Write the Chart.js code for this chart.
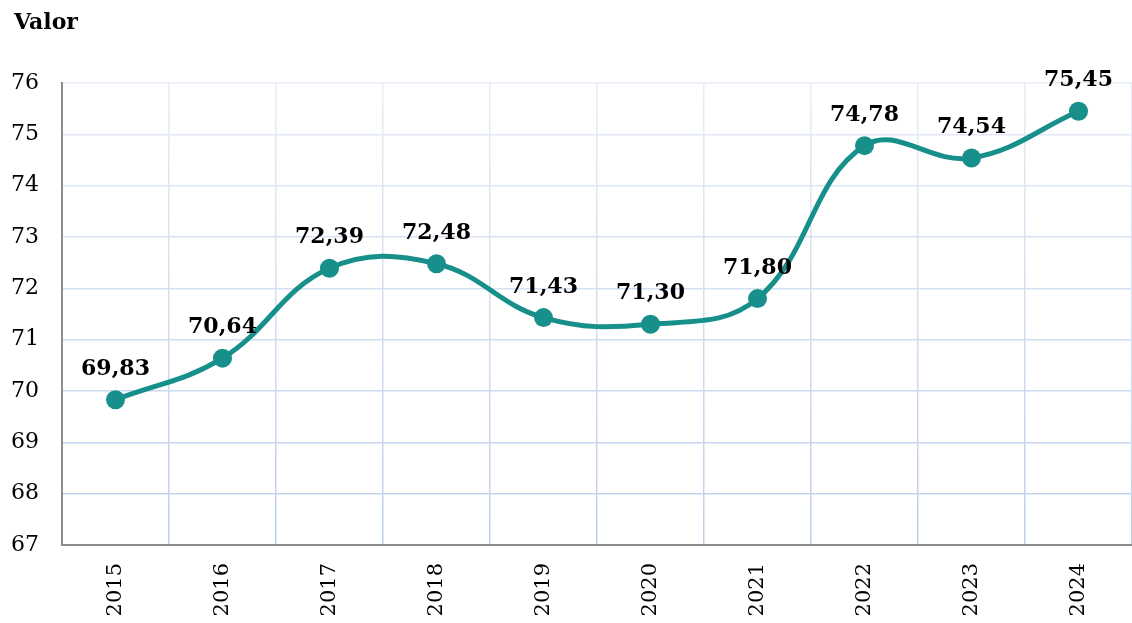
<!DOCTYPE html>
<html>
<head>
<meta charset="utf-8">
<script src="https://cdn.jsdelivr.net/npm/chart.js@4"></script>
<style>
  body { margin: 0; background: #fff; }
</style>
</head>
<body>
<canvas id="chart" width="1132" height="623"></canvas>
<script>
const years = ['2015', '2016', '2017', '2018', '2019', '2020', '2021', '2022', '2023', '2024'];
const valores = [69.83, 70.64, 72.39, 72.48, 71.43, 71.30, 71.80, 74.78, 74.54, 75.45];
const yMin = 67;
const yMax = 76;

const serif = '"DejaVu Serif", "Liberation Serif", serif';
const teal = '#178f8b';

function gridGradient(c) {
    const area = c.chart.chartArea;
    if (!area) return '#c8d7ec';
    const g = c.chart.ctx.createLinearGradient(0, area.top, 0, area.bottom);
    g.addColorStop(0, '#e6edf7');
    g.addColorStop(1, '#bcd0ea');
    return g;
}

// value labels + the "Valor" heading
const labelPlugin = {
    id: 'labels',
    afterDatasetsDraw(chart) {
        const ctx = chart.ctx;
        const meta = chart.getDatasetMeta(0);
        ctx.save();
        ctx.fillStyle = '#000';
        ctx.font = 'bold 22px ' + serif;
        ctx.textAlign = 'center';
        ctx.textBaseline = 'alphabetic';
        meta.data.forEach((pt, i) => {
            const txt = valores[i].toFixed(2).replace('.', ',');
            ctx.fillText(txt, pt.x, pt.y - 25);
        });
        ctx.textAlign = 'left';
        ctx.font = 'bold 22px ' + serif;
        ctx.fillText('Valor', 14, 29);
        ctx.restore();
    }
};

new Chart(document.getElementById('chart'), {
    type: 'line',
    data: {
        labels: years,
        datasets: [{
            data: valores,
            borderColor: teal,
            backgroundColor: teal,
            borderWidth: 5,
            pointRadius: 9.5,
            pointHoverRadius: 9.5,
            pointBackgroundColor: teal,
            pointBorderWidth: 0,
            tension: 0.4,
            fill: false
        }]
    },
    options: {
        responsive: false,
        animation: false,
        layout: { autoPadding: false, padding: { top: 83, right: 0, bottom: 0, left: 11 } },
        plugins: {
            legend: { display: false },
            tooltip: { enabled: false },
            title: { display: false }
        },
        scales: {
            x: {
                offset: true,
                grid: { offset: true, color: gridGradient, lineWidth: 1.5, drawTicks: false },
                border: { color: '#8c8c8c', width: 2 },
                ticks: {
                    color: '#000',
                    font: { family: serif, size: 21 },
                    minRotation: 90,
                    maxRotation: 90,
                    padding: 18
                },
                afterFit(scale) {
                    scale.height = 78;
                    scale.paddingLeft = 0;
                    scale.paddingRight = 0;
                }
            },
            y: {
                min: yMin,
                max: yMax,
                grid: { color: gridGradient, lineWidth: 1.5, drawTicks: false },
                border: { color: '#8c8c8c', width: 2 },
                ticks: {
                    stepSize: 1,
                    color: '#000',
                    font: { family: serif, size: 22 },
                    crossAlign: 'far'
                },
                afterFit(scale) {
                    scale.width = 51;
                    scale.paddingTop = 0;
                    scale.paddingBottom = 0;
                }
            }
        }
    },
    plugins: [labelPlugin]
});
</script>
</body>
</html>
